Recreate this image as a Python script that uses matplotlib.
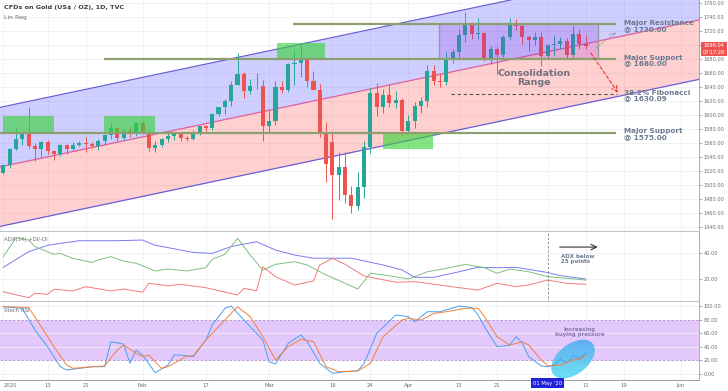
import numpy as np
import pandas as pd
import matplotlib
matplotlib.use("Agg")
import matplotlib.pyplot as plt
from matplotlib.patches import Rectangle, Ellipse
from matplotlib.transforms import IdentityTransform, blended_transform_factory
from matplotlib.colors import LinearSegmentedColormap

# trading days (TVC gold, daily)
days = pd.bdate_range("2020-01-02", "2020-06-12")

# OHLC Jan 2 -> May 11 2020
opens = [1517, 1528, 1552, 1566, 1574, 1556, 1552, 1562, 1548, 1545, 1557, 1552, 1557, 1560, 1558, 1556,
         1563, 1571, 1582, 1567, 1577, 1576, 1589, 1576, 1553, 1557, 1566, 1570, 1573, 1567, 1566, 1575,
         1584, 1581, 1601, 1611, 1620, 1643, 1659, 1634, 1641, 1642, 1585, 1591, 1640, 1636, 1673, 1674,
         1680, 1649, 1636, 1576, 1561, 1514, 1526, 1486, 1470, 1497, 1554, 1631, 1611, 1629, 1617, 1622,
         1577, 1591, 1613, 1620, 1663, 1648, 1647, 1681, 1690, 1714, 1730, 1716, 1717, 1682, 1694, 1686,
         1712, 1731, 1727, 1711, 1707, 1712, 1684, 1700, 1702, 1706, 1686, 1716, 1702]
highs = [1529, 1553, 1582, 1576, 1611, 1560, 1563, 1564, 1550, 1558, 1558, 1561, 1563, 1568, 1562, 1566,
         1573, 1588, 1583, 1581, 1584, 1590, 1592, 1578, 1563, 1567, 1574, 1575, 1575, 1570, 1578, 1585,
         1586, 1603, 1612, 1623, 1649, 1689, 1662, 1651, 1660, 1650, 1608, 1649, 1649, 1674, 1692, 1703,
         1682, 1663, 1645, 1590, 1575, 1547, 1547, 1499, 1518, 1563, 1638, 1646, 1637, 1644, 1634, 1625,
         1600, 1619, 1626, 1671, 1672, 1660, 1690, 1695, 1723, 1747, 1733, 1738, 1719, 1699, 1697, 1714,
         1738, 1737, 1731, 1715, 1718, 1719, 1702, 1715, 1711, 1710, 1727, 1723, 1715]
lows = [1516, 1525, 1550, 1557, 1553, 1535, 1540, 1544, 1536, 1542, 1545, 1550, 1556, 1547, 1553, 1550,
        1557, 1566, 1563, 1564, 1569, 1570, 1573, 1548, 1547, 1555, 1561, 1565, 1563, 1563, 1564, 1572,
        1577, 1578, 1599, 1601, 1613, 1643, 1624, 1630, 1637, 1563, 1575, 1586, 1631, 1633, 1643, 1654,
        1640, 1637, 1569, 1504, 1451, 1478, 1475, 1460, 1465, 1482, 1546, 1598, 1603, 1611, 1610, 1571,
        1574, 1582, 1603, 1611, 1643, 1640, 1643, 1675, 1681, 1705, 1708, 1708, 1677, 1673, 1659, 1683,
        1707, 1722, 1702, 1691, 1700, 1670, 1680, 1685, 1695, 1681, 1683, 1695, 1695]
closes = [1528, 1552, 1566, 1574, 1556, 1552, 1562, 1548, 1545, 1557, 1552, 1557, 1560, 1558, 1556, 1563,
          1571, 1582, 1567, 1577, 1576, 1589, 1576, 1553, 1557, 1566, 1570, 1573, 1567, 1566, 1575, 1584,
          1581, 1601, 1611, 1620, 1643, 1659, 1634, 1641, 1642, 1585, 1591, 1640, 1636, 1673, 1674, 1680,
          1649, 1636, 1576, 1530, 1514, 1526, 1486, 1470, 1497, 1554, 1631, 1611, 1629, 1617, 1622, 1577,
          1591, 1613, 1620, 1663, 1648, 1647, 1681, 1690, 1714, 1730, 1716, 1717, 1682, 1694, 1686, 1712,
          1731, 1727, 1711, 1707, 1712, 1684, 1700, 1702, 1706, 1686, 1716, 1702, 1699]

# linear regression channel (mid line at two days, +/- deviation)
reg_days = [-1, 111]
reg_mid = [1525, 1738]
reg_dev = 85

# horizontal levels
level_prices = [1730, 1680, 1575]
level_start = [45.8, 15.9, -0.6]
level_end = 96.8
level_texts = ["Major Resistance\n@ 1730.00", "Major Support\n@ 1680.00", "Major Support\n@ 1575.00"]
fib_price = 1630.09
fib_start, fib_end = 70.8, 96.9

# green zones: (start day, end day, low, high)
zones = [(0, 8.0, 1575, 1598), (15.9, 24.0, 1575, 1598), (43.2, 50.8, 1680, 1703), (60.0, 67.9, 1552, 1575)]
consol = (68.8, 93.9, 1680, 1730)

# ADX / DI (day index, value)
adx_days = [0, 4, 7, 12, 18, 22, 24, 30, 33, 36, 40, 43, 46, 49, 55, 60, 63, 65, 68, 72, 75, 78, 81, 86, 88, 92]
adx_vals = [29, 41, 46, 49.5, 49.5, 50, 46, 40.5, 39.7, 45, 48.7, 42.3, 38.5, 36, 36, 30.8, 27, 21.3, 21.3,
            25.6, 29, 28.7, 29, 25, 22.6, 20]
pdi_days = [0, 2, 4, 5, 8, 9, 11, 14, 15, 17, 19, 21, 24, 26, 29, 32, 33, 35, 37, 39, 41, 43, 46, 48, 51,
            54, 56, 58, 61, 64, 67, 70, 73, 76, 78, 80, 83, 86, 89, 92]
pdi_vals = [37.2, 51.8, 50, 44.9, 39, 39.7, 35.9, 32.8, 34.6, 37.2, 33.8, 32.1, 26.2, 27.7, 26.2, 28.7, 35.2,
            39, 51.3, 38.5, 26.9, 31.3, 33.3, 30.8, 23.1, 16.7, 12.3, 24.4, 22.5, 20, 25.6, 28.2, 31.3, 28.7,
            24.4, 27.7, 25.6, 21.8, 20.5, 19.2]
mdi_days = [0, 4, 5, 7, 8, 11, 13, 17, 19, 22, 23, 26, 28, 32, 37, 38, 40, 41, 43, 46, 49, 50, 52, 54, 57,
            62, 65, 70, 75, 78, 81, 83, 86, 89, 92]
mdi_vals = [10.2, 5.6, 9, 8.2, 12.1, 10.8, 14.1, 10.8, 12.3, 9.8, 16.7, 14.8, 15.9, 13.3, 7.7, 12.8, 11, 29.5,
            21.8, 15.4, 18.5, 30.8, 35.9, 31.3, 22.3, 17.5, 18, 14.6, 11.5, 16.7, 14.1, 15.4, 19.2, 16.7, 15.9]

# Stoch RSI (day index, value)
k_days = [0, 3, 5, 7, 9, 10, 12, 14, 16, 17, 19, 20, 21, 22, 24, 26, 27, 28, 30, 32, 33, 35, 36, 38, 41, 42,
          43, 45, 47, 48, 50, 52, 54, 56, 57, 59, 62, 64, 65, 67, 69, 72, 74, 75, 76, 78, 80, 81, 82, 83, 85,
          86, 87, 88, 89, 90, 91, 92]
k_vals = [99, 96.6, 64.7, 40.2, 10.7, 5.9, 8.3, 10.7, 10.7, 47.5, 44.1, 15.7, 35.3, 27.9, 1.9, 13.2, 27.9,
          27.9, 25.4, 50, 72, 96.6, 100, 79.4, 50, 18.1, 14.7, 45.1, 57.4, 47.5, 15.7, 1, 3.4, 4.9, 15.7,
          59.9, 86.8, 84.3, 76.9, 91.6, 91.6, 100, 98, 86.8, 69.6, 40.2, 42.6, 54.9, 45.1, 25.4, 11.8, 10.7,
          13.2, 21.6, 16.6, 26.5, 23.1, 30.4]
d_days = [0, 4, 6, 8, 10, 11, 14, 16, 18, 19, 21, 22, 23, 25, 26, 29, 30, 32, 35, 37, 39, 41, 43, 45, 47,
          49, 51, 53, 56, 58, 60, 63, 64, 66, 68, 70, 73, 75, 76, 78, 80, 82, 83, 85, 86, 88, 90, 91, 92]
d_vals = [99, 98, 69.6, 40.2, 13.2, 8.3, 10.7, 11.8, 35.3, 42.6, 30.4, 25.4, 27.9, 8.3, 10.7, 26.5, 26.5, 50,
          79.4, 99, 84.3, 54.9, 20.6, 40.2, 51, 47.5, 10.7, 3.4, 4.4, 15.7, 54.9, 79.4, 81.9, 79.4, 89.2,
          91.6, 96.6, 96.6, 84.3, 54.9, 42.6, 47.5, 42.6, 20.6, 11.8, 13.2, 20.6, 21.6, 27.9]

tick_dates = ["2020-01-02", "2020-01-13", "2020-01-21", "2020-02-03", "2020-02-17", "2020-03-02",
              "2020-03-16", "2020-03-24", "2020-04-01", "2020-04-13", "2020-04-21", "2020-05-11",
              "2020-05-19", "2020-06-01"]
tick_labels = ["2020", "13", "21", "Feb", "17", "Mar", "16", "24", "Apr", "13", "21", "11", "19", "Jun"]
marked_day = "2020-05-01"
last_price = 1699.04

UP, DOWN = "#26a69a", "#ef5350"
GRID = "#eef0f4"
TXT = "#6a6d78"

W, H = 728, 391
fig = plt.figure(figsize=(W / 100, H / 100), dpi=100)


def rect(top, bottom):
    return [0, (H - bottom) / H, 699 / W, (bottom - top) / H]


ax1 = fig.add_axes(rect(0, 232))
ax2 = fig.add_axes(rect(232, 302), sharex=ax1)
ax3 = fig.add_axes(rect(302, 380), sharex=ax1)

xmin, xmax = -0.52, 109.9
ax1.set_ylim(1432.9, 1764.3)
ax2.set_ylim(2.3, 56.2)
ax3.set_ylim(-8.8, 105.9)

tick_pos = [days.get_loc(pd.Timestamp(d)) for d in tick_dates]
mark_pos = days.get_loc(pd.Timestamp(marked_day))

for ax in (ax1, ax2, ax3):
    ax.set_xlim(xmin, xmax)
    ax.yaxis.tick_right()
    ax.tick_params(axis="y", labelsize=3.6, colors=TXT, length=2, width=0.4, pad=1.5)
    ax.tick_params(axis="x", labelsize=3.8, colors=TXT, length=0, pad=2.5)
    for x in tick_pos + [mark_pos]:
        ax.axvline(x, color=GRID, lw=0.6, zorder=0)
    for s in ("left", "top"):
        ax.spines[s].set_visible(False)
    ax.spines["right"].set_color("#8a8e99")
    ax.spines["right"].set_linewidth(0.5)
    ax.spines["bottom"].set_color("#b8bbc2")
    ax.spines["bottom"].set_linewidth(1.3)

ax3.spines["bottom"].set_linewidth(0.6)
ax3.spines["bottom"].set_color("#8a8e99")

# ---- main price panel ----
yt = np.arange(1440, 1761, 20)
ax1.set_yticks(yt)
# the 1700 label sits under the last-price tag
ax1.set_yticklabels(["" if v == 1700 else f"{v:.2f}" for v in yt])
for v in yt:
    ax1.axhline(v, color=GRID, lw=0.6, zorder=0)

mid = np.array(reg_mid, dtype=float)
ax1.fill_between(reg_days, mid, mid + reg_dev, color="#3a3aff", alpha=0.24, lw=0, zorder=1)
ax1.fill_between(reg_days, mid - reg_dev, mid, color="#ff4d4d", alpha=0.26, lw=0, zorder=1)
ax1.plot(reg_days, mid + reg_dev, color="#6a5fd8", lw=0.9, zorder=2)
ax1.plot(reg_days, mid - reg_dev, color="#6a5fd8", lw=0.9, zorder=2)
ax1.plot(reg_days, mid, color="#e0609a", lw=0.9, zorder=2)

o, h, l, c = map(np.array, (opens, highs, lows, closes))
x = np.arange(len(c))
cols = np.where(c >= o, UP, DOWN)
ax1.vlines(x, l, h, colors=cols, lw=0.7, zorder=3)
ax1.bar(x, np.maximum(np.abs(c - o), 0.8), bottom=np.minimum(o, c), width=0.64, color=cols, lw=0, zorder=3)

for (x0, x1, lo, hi) in zones:
    ax1.add_patch(Rectangle((x0, lo), x1 - x0, hi - lo, facecolor="#35d335", alpha=0.62, lw=0, zorder=4))

cx0, cx1, clo, chi = consol
ax1.add_patch(Rectangle((cx0, clo), cx1 - cx0, chi - clo, facecolor="#8a2be2", alpha=0.22,
                        edgecolor="none", zorder=4))
ax1.vlines([cx0, cx1], clo, chi, color="#9a9aa0", lw=1.0, zorder=5)

for p, s in zip(level_prices, level_start):
    ax1.plot([s, level_end], [p, p], color="#8c9f6e", lw=1.6, zorder=5, solid_capstyle="butt")

ax1.plot([fib_start, fib_end], [fib_price, fib_price], color="#555555", lw=0.8, dashes=(3, 2.5), zorder=5)

ax1.annotate("", xy=(97.1, 1632), xytext=(92.8, 1688.6),
             arrowprops=dict(arrowstyle="->", color="#e53935", lw=0.8, ls=(0, (3, 2)),
                             shrinkA=0, shrinkB=0), zorder=6)
ax1.annotate("", xy=(96.8, 1718), xytext=(93.7, 1696),
             arrowprops=dict(arrowstyle="->", color="#9a9aa0", lw=0.6, ls=(0, (2, 2)),
                             shrinkA=0, shrinkB=0), zorder=6)

lab_style = dict(fontsize=5.2, fontweight="bold", color="#6b7a8f", ha="left", va="center",
                 linespacing=0.95, zorder=7)
for p, t in zip([1727, 1678, 1573], level_texts):
    ax1.text(98.1, p, t, **lab_style)
ax1.text(98.1, 1628, "38.2% Fibonacci\n@ 1630.09", **lab_style)

ax1.text(83.8, 1653, "Consolidation\nRange", fontsize=6.8, fontweight="bold", color="#70707e",
         ha="center", va="center", linespacing=0.95, zorder=7)

ax1.text(0.006, 1 - 7 / 232, "CFDs on Gold (US$ / OZ), 1D, TVC", transform=ax1.transAxes,
         fontsize=4.6, fontweight="bold", color="#3a3d45", va="center")
ax1.text(0.006, 1 - 17 / 232, "Lin Reg", transform=ax1.transAxes, fontsize=4.4, color=TXT, va="center")

tr = blended_transform_factory(ax1.transAxes, ax1.transData)
ax1.text(1.021, 1694.3, f"{last_price:.2f}\n07:17:28", transform=tr, ha="center", va="center",
         fontsize=3.6, color="white", linespacing=1.3, clip_on=False,
         bbox=dict(boxstyle="square,pad=0.35", fc=DOWN, ec="none"))

# ---- ADX panel ----
ax2.set_yticks([20, 40])
ax2.set_yticklabels(["20.00", "40.00"])
for v in (20, 40):
    ax2.axhline(v, color=GRID, lw=0.6, zorder=0)
ax2.plot(adx_days, adx_vals, color="#7b7bef", lw=0.7)
ax2.plot(pdi_days, pdi_vals, color="#7fbf7f", lw=0.7)
ax2.plot(mdi_days, mdi_vals, color="#f07c7c", lw=0.7)
ax2.axvline(mark_pos, color="#666666", lw=0.5, ls=(0, (3, 3)))
ax2.annotate("", xy=(93.9, 44.6), xytext=(87.9, 44.6),
             arrowprops=dict(arrowstyle="->", color="#333333", lw=0.8, shrinkA=0, shrinkB=0))
ax2.text(88.1, 35.6, "ADX below\n25 points", fontsize=4.0, fontweight="bold", color="#6b7a8f",
         ha="left", va="center", linespacing=1.0)
ax2.text(0.006, 1 - 8 / 70, "ADX(14) +DI/-DI", transform=ax2.transAxes, fontsize=3.9, color=TXT,
         va="center")

# ---- Stoch RSI panel ----
st = np.arange(0, 101, 20)
ax3.set_yticks(st)
ax3.set_yticklabels([f"{v:.2f}" for v in st])
ax3.axhspan(20, 80, color="#e3c8fb", lw=0, zorder=0)
for v in st:
    ax3.axhline(v, color=GRID, lw=0.6, zorder=0)
for v in (20, 80):
    ax3.axhline(v, color="#b58ad4", lw=0.6, ls=(0, (3, 2)), zorder=1)

ax3.set_xlim(xmin, xmax)
cx, cy = ax3.transData.transform((90.0, 22))
ell = Ellipse((cx, cy), 50, 30, angle=38, transform=IdentityTransform(), facecolor="none", edgecolor="none")
ax3.add_patch(ell)
inv = ax3.transData.inverted()
(ex0, ey0), (ex1, ey1) = inv.transform([(cx - 30, cy - 30), (cx + 30, cy + 30)])
cmap = LinearSegmentedColormap.from_list("g", ["#4f9ff2", "#5fe9f3"])
im = ax3.imshow(np.linspace(0, 1, 64).reshape(-1, 1), extent=(ex0, ex1, ey0, ey1), origin="upper",
                cmap=cmap, aspect="auto", alpha=0.9, zorder=2)
im.set_clip_path(ell)

ax3.plot(k_days, k_vals, color="#4a9ff0", lw=0.7, zorder=3)
ax3.plot(d_days, d_vals, color="#f0803c", lw=0.7, zorder=3)
ax3.text(91.1, 61.8, "Increasing\nbuying pressure", fontsize=3.9, fontweight="bold", color="#8878b0",
         ha="center", va="center", linespacing=1.0)
ax3.text(0.006, 1 - 9 / 78, "Stoch RSI", transform=ax3.transAxes, fontsize=3.9, color=TXT, va="center")

ax3.set_xlim(xmin, xmax)
ax3.set_ylim(-8.8, 105.9)
ax3.set_xticks(tick_pos)
ax3.set_xticklabels(tick_labels)
ax3.get_xticklabels()[0].set_ha("left")
plt.setp(ax1.get_xticklabels(), visible=False)
plt.setp(ax2.get_xticklabels(), visible=False)

trx = blended_transform_factory(ax3.transData, ax3.transAxes)
ax3.text(mark_pos, -3 / 78, "01 May '20", transform=trx, ha="center", va="center", fontsize=3.8,
         color="white", clip_on=False, bbox=dict(boxstyle="square,pad=0.4", fc="#1f22d8", ec="none"))

fig.savefig("out.png", dpi=100)
